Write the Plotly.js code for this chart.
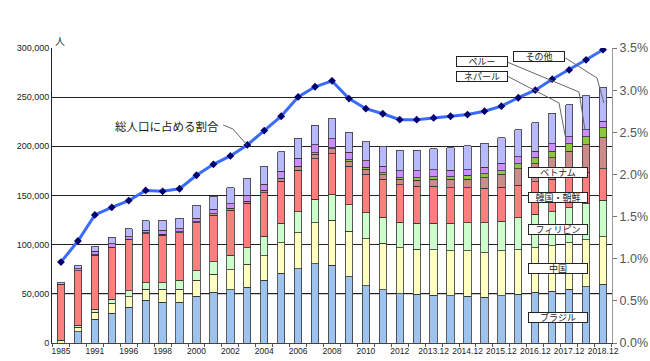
<!DOCTYPE html>
<html>
<head>
<meta charset="utf-8">
<script src="https://cdn.plot.ly/plotly-3.0.1.min.js"></script>
<style>html,body{margin:0;padding:0;background:#fff;}#chart{width:650px;height:361px;}</style>
</head>
<body>
<div id="chart"></div>
<script>
// ---- data (people; ratio in %) ----
const categories = ["1985","1990","1991","1995","1996","1997","1998","1999","2000","2001","2002","2003","2004","2005","2006","2007","2008","2009","2010","2011","2012","2013.6","2013.12","2014.6","2014.12","2015.6","2015.12","2016.6","2016.12","2017.6","2017.12","2018.6","2018.12"];
const tickLabels = ["1985","","1991","","1996","","1998","","2000","","2002","","2004","","2006","","2008","","2010","","2012","","2013.12","","2014.12","","2015.12","","2016.12","","2017.12","","2018.12"];
const brazil      = [0,11500,24300,30400,36500,43300,41300,41300,47400,51400,54400,56800,63900,71000,75700,80400,79100,67200,58100,54000,50000,49400,48700,48000,47400,46300,48000,49700,51400,52400,54800,57100,59800];
const china       = [2500,4400,6800,10200,10500,11500,13500,13500,16500,18600,20300,23300,24600,31100,36500,42000,45900,46700,48100,47400,47000,45900,45900,45600,46200,45300,45600,44900,45600,46300,47300,47700,48400];
const philippines = [300,2400,3100,4000,6000,6400,6700,8800,9800,12400,14500,16900,20300,19600,21300,23600,25800,26700,26400,26400,26000,26400,27100,28100,28800,30800,30400,32900,33800,34800,35500,36900,37100];
const korea       = [56300,55000,55000,52400,51800,50000,48300,48600,48700,47400,46000,45000,44000,42600,42200,41600,41600,39200,38900,38500,37900,37800,37500,36000,35500,34800,34500,33000,33000,33000,32500,32000,31800];
const vietnam     = [0,400,500,600,600,700,900,1000,1100,1400,1600,2000,2000,3000,3600,4400,5100,4700,5000,4800,5400,5800,7100,8600,8700,10800,12900,16600,18400,21800,24900,28100,31500];
const nepal       = [0,0,0,0,0,0,0,0,0,0,0,0,300,400,500,1400,1300,1700,2400,2000,2000,2700,2700,2700,3800,4100,3700,5100,6100,6700,7500,7800,10100];
const peru        = [400,2000,3600,3500,2800,3000,4200,3100,3600,5000,4900,6100,6400,7000,8100,8100,8800,7800,6500,6700,6800,7100,7400,6700,6000,6700,7700,7100,6700,7500,7100,7400,6700];
const others      = [2000,3100,4700,6400,8100,9500,10100,10800,12900,13200,16200,17500,18300,19700,20300,19900,20300,20300,19500,20300,20900,20900,21000,22700,24400,24300,25800,27700,28800,31400,32700,34500,34900];
const ratio       = [0.96,1.21,1.52,1.61,1.69,1.81,1.80,1.83,1.99,2.12,2.22,2.35,2.52,2.69,2.92,3.04,3.11,2.90,2.78,2.72,2.65,2.65,2.67,2.69,2.71,2.75,2.81,2.91,3.00,3.13,3.24,3.36,3.48];
const seriesNames = ["ブラジル","中国","フィリピン","韓国・朝鮮","ベトナム","ネパール","ペルー","その他"];
const lineName = "総人口に占める割合";

// ---- styling ----
const seriesData = [brazil, china, philippines, korea, vietnam, nepal, peru, others];
const colors = ["#9DC3EE","#FFFFC0","#CCFFCC","#FF7F7F","#CC8C8C","#8DC63F","#CC8DFF","#B9B9FF"];
const JP = '"Noto Sans CJK JP", "Noto Sans", sans-serif';

// plot area in page px
const L = 52, R = 612, T = 48, B = 343;
const px = X => (X - L) / (R - L);
const py = Y => (B - Y) / (B - T);
const path = pts => pts.map((p, i) => (i ? 'L' : 'M') + px(p[0]).toFixed(4) + ',' + py(p[1]).toFixed(4)).join(' ');

const traces = seriesData.map((vals, i) => ({
  type: 'bar', x: categories, y: vals, name: seriesNames[i],
  marker: {color: colors[i], line: {color: '#333', width: 0.8}},
  hoverinfo: 'skip'
}));
traces.push({
  type: 'scatter', mode: 'lines+markers', x: categories, y: ratio, yaxis: 'y2', name: lineName,
  line: {color: '#3A6BFF', width: 3},
  marker: {symbol: 'diamond', size: 6, color: '#00006E'},
  hoverinfo: 'skip'
});

const boxLabels = [
  {t: seriesNames[4], X: 558, Y: 172},
  {t: seriesNames[3], X: 558, Y: 197},
  {t: seriesNames[2], X: 558, Y: 229},
  {t: seriesNames[1], X: 558, Y: 268.5},
  {t: seriesNames[0], X: 558, Y: 317},
  {t: seriesNames[7], X: 539, Y: 57},
  {t: seriesNames[6], X: 481.5, Y: 61.8},
  {t: seriesNames[5], X: 481.5, Y: 76.3}
];
const annotations = boxLabels.map((b, i) => ({
  xref: 'paper', yref: 'paper', x: px(b.X), y: py(b.Y), xanchor: 'center', yanchor: 'middle',
  text: b.t, showarrow: false, font: {family: JP, size: 9, color: '#222'},
  bgcolor: '#fff', bordercolor: '#222', borderwidth: 1, borderpad: 0,
  width: i >= 5 ? 50 : 58, height: 9
}));
annotations.push({
  xref: 'paper', yref: 'paper', x: px(167), y: py(126), xanchor: 'center', yanchor: 'middle',
  text: lineName, showarrow: false, font: {family: JP, size: 11.5, color: '#222'}
});
annotations.push({
  xref: 'paper', yref: 'paper', x: px(60), y: py(41), xanchor: 'center', yanchor: 'middle',
  text: '人', showarrow: false, font: {family: JP, size: 10, color: '#333'}
});

const leader = {color: '#666', width: 1};
const shapes = [
  {type: 'line', xref: 'paper', yref: 'y', x0: 0, x1: 1, y0: 50000, y1: 50000, line: {color: '#9a9a9a', width: 1.2}, layer: 'below'},
  {type: 'path', xref: 'paper', yref: 'paper', path: path([[223,125],[233,129],[247,145]]), line: leader},
  {type: 'path', xref: 'paper', yref: 'paper', path: path([[565.5,58],[597,78],[604,103]]), line: leader},
  {type: 'path', xref: 'paper', yref: 'paper', path: path([[507,62],[579,92],[585,130]]), line: leader},
  {type: 'path', xref: 'paper', yref: 'paper', path: path([[507,76],[559,103],[566,140]]), line: leader}
];

const layout = {
  width: 650, height: 361,
  margin: {l: L, r: 650 - R, t: T, b: 361 - B, pad: 0},
  paper_bgcolor: '#fff', plot_bgcolor: '#fff',
  barmode: 'stack', bargap: 0.57,
  showlegend: false, hovermode: false,
  font: {family: '"Liberation Sans", Arial, sans-serif', color: '#222'},
  xaxis: {
    type: 'category', categoryorder: 'array', categoryarray: categories,
    range: [-0.53, 32.53], tickmode: 'array', tickvals: categories, ticktext: tickLabels,
    tickson: 'boundaries', ticks: 'outside', ticklen: 3, tickcolor: '#555',
    showline: true, linecolor: '#444', linewidth: 1, showgrid: false,
    tickfont: {family: '"Liberation Sans Narrow", "Liberation Sans", sans-serif', size: 8.5, color: '#222'},
    tickangle: 0
  },
  yaxis: {
    range: [0, 300000], dtick: 50000, tickformat: ',d',
    showgrid: true, gridcolor: '#222', gridwidth: 1, zeroline: false,
    showline: true, linecolor: '#222', linewidth: 1, ticks: '', ticklen: 0,
    tickfont: {family: '"Liberation Sans Narrow", "Liberation Sans", sans-serif', size: 9, color: '#222'}
  },
  yaxis2: {
    overlaying: 'y', side: 'right', range: [0, 3.5], dtick: 0.5, tickformat: '.1f', ticksuffix: '%',
    showgrid: false, zeroline: false, showline: true, linecolor: '#999', linewidth: 1,
    ticks: 'outside', ticklen: 4, tickcolor: '#777',
    tickfont: {family: '"Liberation Sans", Arial, sans-serif', size: 12.5, color: '#555'}
  },
  annotations: annotations,
  shapes: shapes
};

Plotly.newPlot('chart', traces, layout, {staticPlot: true, displayModeBar: false});
</script>
</body>
</html>
